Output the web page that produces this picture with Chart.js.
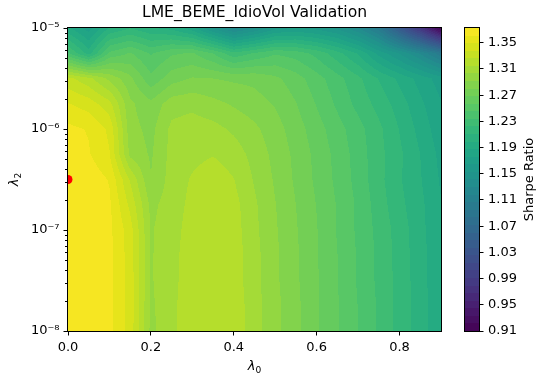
<!DOCTYPE html>
<html>
<head>
<meta charset="utf-8">
<script src="https://cdn.jsdelivr.net/npm/chart.js@4/dist/chart.umd.min.js"></script>
<style>
  html, body { margin: 0; padding: 0; background: #fff; }
  #wrap { position: relative; width: 539px; height: 378px; }
  #main { position: absolute; left: 0; top: 0; }
  #cbar { position: absolute; left: 440px; top: 0; }
</style>
</head>
<body>
<div id="wrap">
  <canvas id="main" width="539" height="378"></canvas>
  <canvas id="cbar" width="99" height="378"></canvas>
</div>
<script>
// ---- grid of validation Sharpe ratios ----
const lambda0 = [0, 0.05, 0.1, 0.15, 0.2, 0.25, 0.3, 0.35, 0.4, 0.45,
                 0.5, 0.55, 0.6, 0.65, 0.7, 0.75, 0.8, 0.85, 0.9];
const lambda2Exp = [-8, -7.75, -7.5, -7.25, -7, -6.75, -6.5, -6.25, -6, -5.75, -5.5, -5.25, -5];

// one row per lambda2 value (log10 given by the name), one entry per lambda0
const sr_m800 = [1.368,1.368,1.364,1.345,1.300,1.312,1.322,1.324,1.322,1.308,1.295,1.283,1.270,1.258,1.245,1.232,1.218,1.205,1.190];
const sr_m775 = [1.368,1.368,1.364,1.345,1.301,1.312,1.322,1.324,1.322,1.308,1.295,1.283,1.270,1.258,1.245,1.232,1.218,1.205,1.190];
const sr_m750 = [1.369,1.368,1.364,1.345,1.302,1.311,1.322,1.324,1.321,1.307,1.294,1.282,1.270,1.257,1.244,1.231,1.218,1.204,1.189];
const sr_m725 = [1.370,1.369,1.364,1.344,1.302,1.311,1.321,1.323,1.321,1.307,1.294,1.282,1.269,1.257,1.244,1.231,1.217,1.204,1.189];
const sr_m700 = [1.370,1.369,1.364,1.343,1.302,1.310,1.320,1.323,1.320,1.306,1.293,1.281,1.269,1.256,1.243,1.230,1.217,1.203,1.188];
const sr_m675 = [1.371,1.369,1.363,1.335,1.300,1.309,1.318,1.323,1.319,1.305,1.292,1.280,1.268,1.256,1.243,1.228,1.214,1.202,1.188];
const sr_m650 = [1.3725,1.369,1.360,1.325,1.292,1.308,1.316,1.322,1.315,1.302,1.290,1.278,1.266,1.254,1.241,1.226,1.212,1.200,1.186];
const sr_m625 = [1.368,1.362,1.350,1.300,1.290,1.307,1.311,1.314,1.309,1.299,1.288,1.277,1.265,1.253,1.240,1.226,1.213,1.199,1.184];
const sr_m600 = [1.364,1.360,1.347,1.296,1.288,1.306,1.309,1.307,1.301,1.294,1.285,1.274,1.262,1.250,1.238,1.225,1.210,1.195,1.180];
const sr_m575 = [1.350,1.344,1.330,1.294,1.283,1.298,1.300,1.295,1.290,1.285,1.279,1.269,1.256,1.243,1.230,1.218,1.205,1.190,1.177];
const sr_m550 = [1.330,1.318,1.300,1.283,1.260,1.275,1.281,1.280,1.278,1.277,1.271,1.262,1.250,1.238,1.225,1.210,1.196,1.183,1.170];
const sr_m525 = [1.235,1.205,1.248,1.258,1.244,1.255,1.258,1.245,1.225,1.235,1.244,1.240,1.230,1.215,1.198,1.172,1.152,1.128,1.098];
const sr_m500 = [1.190,1.170,1.200,1.210,1.200,1.195,1.180,1.150,1.125,1.140,1.160,1.165,1.160,1.150,1.130,1.100,1.040,0.980,0.910];

const sharpeGrid = [sr_m800, sr_m775, sr_m750, sr_m725, sr_m700, sr_m675, sr_m650,
                    sr_m625, sr_m600, sr_m575, sr_m550, sr_m525, sr_m500];

// ---- axes / colour bar ticks ----
const xTicks = [0, 0.2, 0.4, 0.6, 0.8];
const yMajorExp = [-8, -7, -6, -5];
const yTickLabels = ['10\u207B\u2078', '10\u207B\u2077', '10\u207B\u2076', '10\u207B\u2075'];
const cbarTicks = [0.91, 0.95, 0.99, 1.03, 1.07, 1.11, 1.15, 1.19, 1.23, 1.27, 1.31, 1.35];
const levelMin = 0.91, levelMax = 1.3725, levelCount = 40;

const titleText = 'LME_BEME_IdioVol Validation';
const cbarLabel = 'Sharpe Ratio';
const FONT = '"DejaVu Sans", "Liberation Sans", sans-serif';

// ---- viridis ----
const viridisStops = [
  [68,1,84],[71,19,101],[72,36,117],[69,55,129],[65,68,135],[59,82,139],[53,95,141],
  [47,108,142],[42,120,142],[37,132,142],[33,145,140],[30,156,137],[34,168,132],
  [47,180,124],[68,191,112],[94,201,98],[122,209,81],[155,217,60],[189,223,38],
  [223,227,24],[253,231,37]
];
function viridis(t) {
  t = Math.min(1, Math.max(0, t));
  const p = t * (viridisStops.length - 1);
  const i = Math.min(viridisStops.length - 2, Math.floor(p));
  const f = p - i, a = viridisStops[i], b = viridisStops[i + 1];
  return [0, 1, 2].map(k => Math.round(a[k] + (b[k] - a[k]) * f));
}
const levelStep = (levelMax - levelMin) / levelCount;
const levels = Array.from({length: levelCount + 1}, (_, k) => levelMin + k * levelStep);
const bandColors = Array.from({length: levelCount}, (_, k) => viridis((k + 0.5) / levelCount));
function bandIndex(v) {
  return Math.min(levelCount - 1, Math.max(0, Math.floor((v - levelMin) / levelStep)));
}

// ---- interpolation over the grid (lambda2 in log10) ----
function locate(arr, v) {
  let i = 0;
  while (i < arr.length - 2 && v > arr[i + 1]) i++;
  const t = (v - arr[i]) / (arr[i + 1] - arr[i]);
  return [i, Math.min(1, Math.max(0, t))];
}
function fieldAt(l0, e) {
  const [i, tx] = locate(lambda0, l0);
  const [j, ty] = locate(lambda2Exp, e);
  const r0 = sharpeGrid[j], r1 = sharpeGrid[j + 1];
  const a = r0[i] + (r0[i + 1] - r0[i]) * tx;
  const b = r1[i] + (r1[i + 1] - r1[i]) * tx;
  return a + (b - a) * ty;
}

// best grid point
let best = {v: -Infinity, i: 0, j: 0};
sharpeGrid.forEach((row, j) => row.forEach((v, i) => { if (v > best.v) best = {v, i, j}; }));
const bestPoint = {x: lambda0[best.i], y: Math.pow(10, lambda2Exp[best.j])};

// filled contour field
const contourField = {
  id: 'contourField',
  beforeDatasetsDraw(chart) {
    const {ctx, chartArea: a, scales: {x, y}} = chart;
    const w = Math.round(a.right - a.left), h = Math.round(a.bottom - a.top);
    const off = document.createElement('canvas');
    off.width = w; off.height = h;
    const octx = off.getContext('2d');
    const img = octx.createImageData(w, h);
    const xs = new Float64Array(w);
    for (let px = 0; px < w; px++) xs[px] = x.getValueForPixel(a.left + px + 0.5);
    for (let py = 0; py < h; py++) {
      const e = Math.log10(y.getValueForPixel(a.top + py + 0.5));
      for (let px = 0; px < w; px++) {
        const c = bandColors[bandIndex(fieldAt(xs[px], e))];
        const o = (py * w + px) * 4;
        img.data[o] = c[0]; img.data[o + 1] = c[1]; img.data[o + 2] = c[2]; img.data[o + 3] = 255;
      }
    }
    octx.putImageData(img, 0, 0);
    ctx.drawImage(off, a.left, a.top);
  }
};

function drawLambda(ctx, sub, size, cx, cy, rotate) {
  ctx.save();
  ctx.translate(cx, cy);
  if (rotate) ctx.rotate(-Math.PI / 2);
  ctx.fillStyle = '#000';
  ctx.textBaseline = 'alphabetic';
  ctx.textAlign = 'left';
  ctx.font = 'italic ' + size + 'px ' + FONT;
  const w1 = ctx.measureText('\u03BB').width;
  ctx.font = (size * 0.7) + 'px ' + FONT;
  const w2 = ctx.measureText(sub).width;
  const x0 = -(w1 + w2) / 2, base = size * 0.3;
  ctx.font = 'italic ' + size + 'px ' + FONT;
  ctx.fillText('\u03BB', x0, base);
  ctx.font = (size * 0.7) + 'px ' + FONT;
  ctx.fillText(sub, x0 + w1, base + size * 0.2);
  ctx.restore();
}

// frame, minor ticks and texts
const frameAndText = {
  id: 'frameAndText',
  afterDraw(chart) {
    const {ctx, chartArea: a, scales: {y}} = chart;
    ctx.save();
    ctx.strokeStyle = '#000';
    ctx.lineWidth = 1;
    // minor log ticks
    ctx.beginPath();
    for (let e = yMajorExp[0]; e < yMajorExp[yMajorExp.length - 1]; e++) {
      for (let k = 2; k <= 9; k++) {
        const py = Math.round(y.getPixelForValue(k * Math.pow(10, e))) + 0.5;
        ctx.moveTo(a.left - 0.5, py);
        ctx.lineTo(a.left - 3, py);
      }
    }
    ctx.stroke();
    ctx.strokeRect(a.left - 0.5, a.top - 0.5, a.right - a.left + 1, a.bottom - a.top + 1);
    ctx.fillStyle = '#000';
    ctx.font = '15.6px ' + FONT;
    ctx.textAlign = 'center';
    ctx.textBaseline = 'middle';
    ctx.fillText(titleText, (a.left + a.right) / 2, 13);
    ctx.restore();
    drawLambda(ctx, '0', 13, (a.left + a.right) / 2, 366, false);
    drawLambda(ctx, '2', 13, 14, (a.top + a.bottom) / 2, true);
  }
};

new Chart(document.getElementById('main'), {
  type: 'scatter',
  data: {
    datasets: [{
      data: [bestPoint],
      pointRadius: 4.5,
      pointBackgroundColor: '#ff0000',
      pointBorderWidth: 0,
      pointHoverRadius: 4.5,
      clip: 0
    }]
  },
  options: {
    responsive: false,
    animation: false,
    events: [],
    layout: {padding: {left: 0, right: 98, top: 28, bottom: 0}},
    plugins: {legend: {display: false}, tooltip: {enabled: false}, title: {display: false}},
    scales: {
      x: {
        type: 'linear', min: 0, max: 0.9,
        afterBuildTicks: s => { s.ticks = xTicks.map(v => ({value: v})); },
        afterFit: s => { s.height = 47; },
        ticks: {callback: v => Number(v).toFixed(1), color: '#000', font: {family: FONT, size: 13},
                padding: 4, maxRotation: 0, autoSkip: false},
        grid: {drawOnChartArea: false, drawTicks: true, tickLength: 4.5, color: '#000', lineWidth: 1},
        border: {display: false}
      },
      y: {
        type: 'logarithmic', min: 1e-8, max: 1e-5,
        afterBuildTicks: s => { s.ticks = yMajorExp.map(e => ({value: Math.pow(10, e)})); },
        afterFit: s => { s.width = 68; },
        ticks: {
          callback: v => yTickLabels[yMajorExp.indexOf(Math.round(Math.log10(v)))],
          color: '#000', font: {family: FONT, size: 13}, padding: 4, autoSkip: false
        },
        grid: {drawOnChartArea: false, drawTicks: true, tickLength: 4.5, color: '#000', lineWidth: 1},
        border: {display: false}
      }
    }
  },
  plugins: [contourField, frameAndText]
});

// ---- colour bar ----
const colorBands = {
  id: 'colorBands',
  beforeDatasetsDraw(chart) {
    const {ctx, chartArea: a, scales: {y}} = chart;
    ctx.save();
    for (let k = 0; k < levelCount; k++) {
      const y0 = Math.round(y.getPixelForValue(levels[k]));
      const y1 = Math.round(y.getPixelForValue(levels[k + 1]));
      const c = bandColors[k];
      ctx.fillStyle = 'rgb(' + c[0] + ',' + c[1] + ',' + c[2] + ')';
      ctx.fillRect(a.left, y1, a.right - a.left, y0 - y1);
    }
    ctx.restore();
  },
  afterDraw(chart) {
    const {ctx, chartArea: a} = chart;
    ctx.save();
    ctx.strokeStyle = '#000';
    ctx.lineWidth = 1;
    ctx.strokeRect(a.left - 0.5, a.top - 0.5, a.right - a.left + 1, a.bottom - a.top + 1);
    ctx.translate(90, (a.top + a.bottom) / 2);
    ctx.rotate(-Math.PI / 2);
    ctx.fillStyle = '#000';
    ctx.font = '13px ' + FONT;
    ctx.textAlign = 'center';
    ctx.textBaseline = 'middle';
    ctx.fillText(cbarLabel, 0, 0);
    ctx.restore();
  }
};

new Chart(document.getElementById('cbar'), {
  type: 'scatter',
  data: {datasets: []},
  options: {
    responsive: false,
    animation: false,
    events: [],
    layout: {padding: {left: 25, right: 0, top: 28, bottom: 47}},
    plugins: {legend: {display: false}, tooltip: {enabled: false}},
    scales: {
      x: {type: 'linear', min: 0, max: 1, display: false},
      y: {
        type: 'linear', position: 'right', min: levelMin, max: levelMax,
        afterBuildTicks: s => { s.ticks = cbarTicks.map(v => ({value: v})); },
        afterFit: s => { s.width = 60; },
        ticks: {callback: v => Number(v).toFixed(2), color: '#000', font: {family: FONT, size: 13},
                padding: 4.5, autoSkip: false},
        grid: {drawOnChartArea: false, drawTicks: true, tickLength: 4.5, color: '#000', lineWidth: 1},
        border: {display: false}
      }
    }
  },
  plugins: [colorBands]
});
</script>
</body>
</html>
